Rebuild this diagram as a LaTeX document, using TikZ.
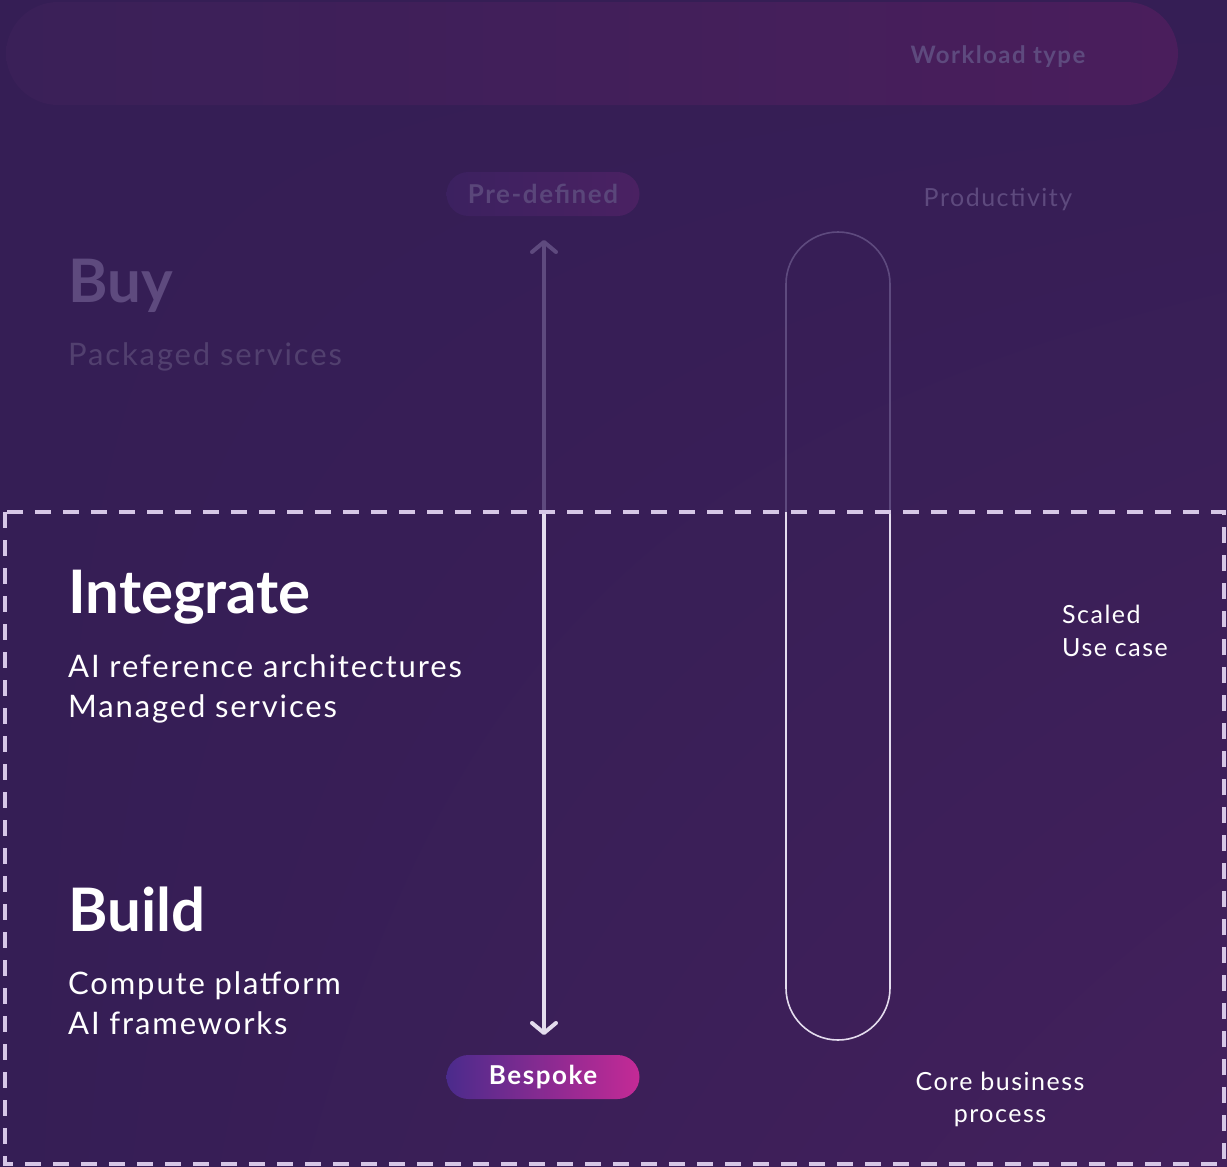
\documentclass[tikz,border=0pt]{standalone}
\usepackage{fontspec}
\setmainfont{Lato}
\newfontfamily\spaced[LetterSpace=6]{Lato}
\usetikzlibrary{arrows.meta, positioning, shadings}

\definecolor{bgdark}{HTML}{351E55}
\definecolor{bgwarm}{HTML}{43205C}
\definecolor{faint}{HTML}{5E4A7E}
\definecolor{fainter}{HTML}{52406F}
\definecolor{dashcol}{HTML}{D6C7E6}
\definecolor{softwhite}{HTML}{E4DCEE}
\definecolor{barleft}{HTML}{3A2058}
\definecolor{barright}{HTML}{4A1E5C}
\definecolor{preleft}{HTML}{3C2160}
\definecolor{preright}{HTML}{4A2162}
\definecolor{besleft}{HTML}{4B2B8C}
\definecolor{besright}{HTML}{C42A96}

\begin{document}
\begin{tikzpicture}[x=1pt, y=-1pt,
  bigtitle/.style={anchor=base west, inner sep=0pt, text=white, font=\bfseries\fontsize{60}{66}\selectfont},
  subline/.style={anchor=base west, inner sep=0pt, text=white, font=\spaced\fontsize{31}{37}\selectfont},
  sidenote/.style={anchor=base, inner sep=0pt, text=white, font=\spaced\fontsize{25}{30}\selectfont},
  dashbox/.style={draw=dashcol, line width=3.5pt, dash pattern=on 16pt off 12pt},
  pill/.style={rounded corners=22pt, minimum width=193pt, minimum height=44pt, inner sep=0pt,
    font=\spaced\bfseries\fontsize{26}{30}\selectfont}]
\useasboundingbox (0,0) rectangle (1227,1167);
\shade[upper left=bgdark, upper right=bgdark, lower left=bgdark, lower right=bgwarm] (0,0) rectangle (1227,1167);

% workload bar
\shade[rounded corners=52pt, left color=barleft, right color=barright] (6,2) rectangle (1178,105);
\node[anchor=base, text=faint, font=\spaced\bfseries\fontsize{24}{28}\selectfont] (wtype) at (998,63) {Workload type};

% pills
\node[pill, left color=preleft, right color=preright, text=faint!90!bgdark] (pre) at (543,194) {Pre-defined};
\node[pill, left color=besleft, right color=besright, text=white] (bes) at (543,1077) {Bespoke};

% arrow
\coordinate (atop) at (544,240);
\coordinate (amid) at (544,512);
\coordinate (abot) at (544,1035);
\draw[faint, line width=4pt, -{Straight Barb[length=10pt, width=24pt, round]}] (amid) -- (atop);
\draw[softwhite, line width=4pt, -{Straight Barb[length=10pt, width=24pt, round]}] (amid) -- (abot);

% capsule
\draw[faint, line width=1.6pt] (786,512) -- (786,284) arc (180:360:52) -- (890,512);
\draw[softwhite, line width=1.6pt] (786,512) -- (786,988) arc (180:0:52) -- (890,512);

% dashed frame
\draw[dashbox] (5,512) rectangle (1224,1164);

% left column
\node[bigtitle, text=faint] (buy) at (68,302) {Buy};
\node[subline, text=fainter] (pack) at (68,365) {Packaged services};
\node[bigtitle] (integ) at (68,613) {Integrate};
\node[subline] (ref) at (68,677) {AI reference architectures};
\node[subline] (man) at (68,717) {Managed services};
\node[bigtitle] (build) at (68,931) {Build};
\node[subline] (comp) at (68,994) {Compute platform};
\node[subline] (fw) at (68,1034) {AI frameworks};

% right column
\node[sidenote, text=faint] (prod) at (998,206) {Productivity};
\node[sidenote, anchor=base west] (scal) at (1062,623) {Scaled};
\node[sidenote, anchor=base west] (use) at (1062,656) {Use case};
\node[sidenote] (core) at (1000,1090) {Core business};
\node[sidenote] (proc) at (1000,1122) {process};
\end{tikzpicture}
\end{document}
